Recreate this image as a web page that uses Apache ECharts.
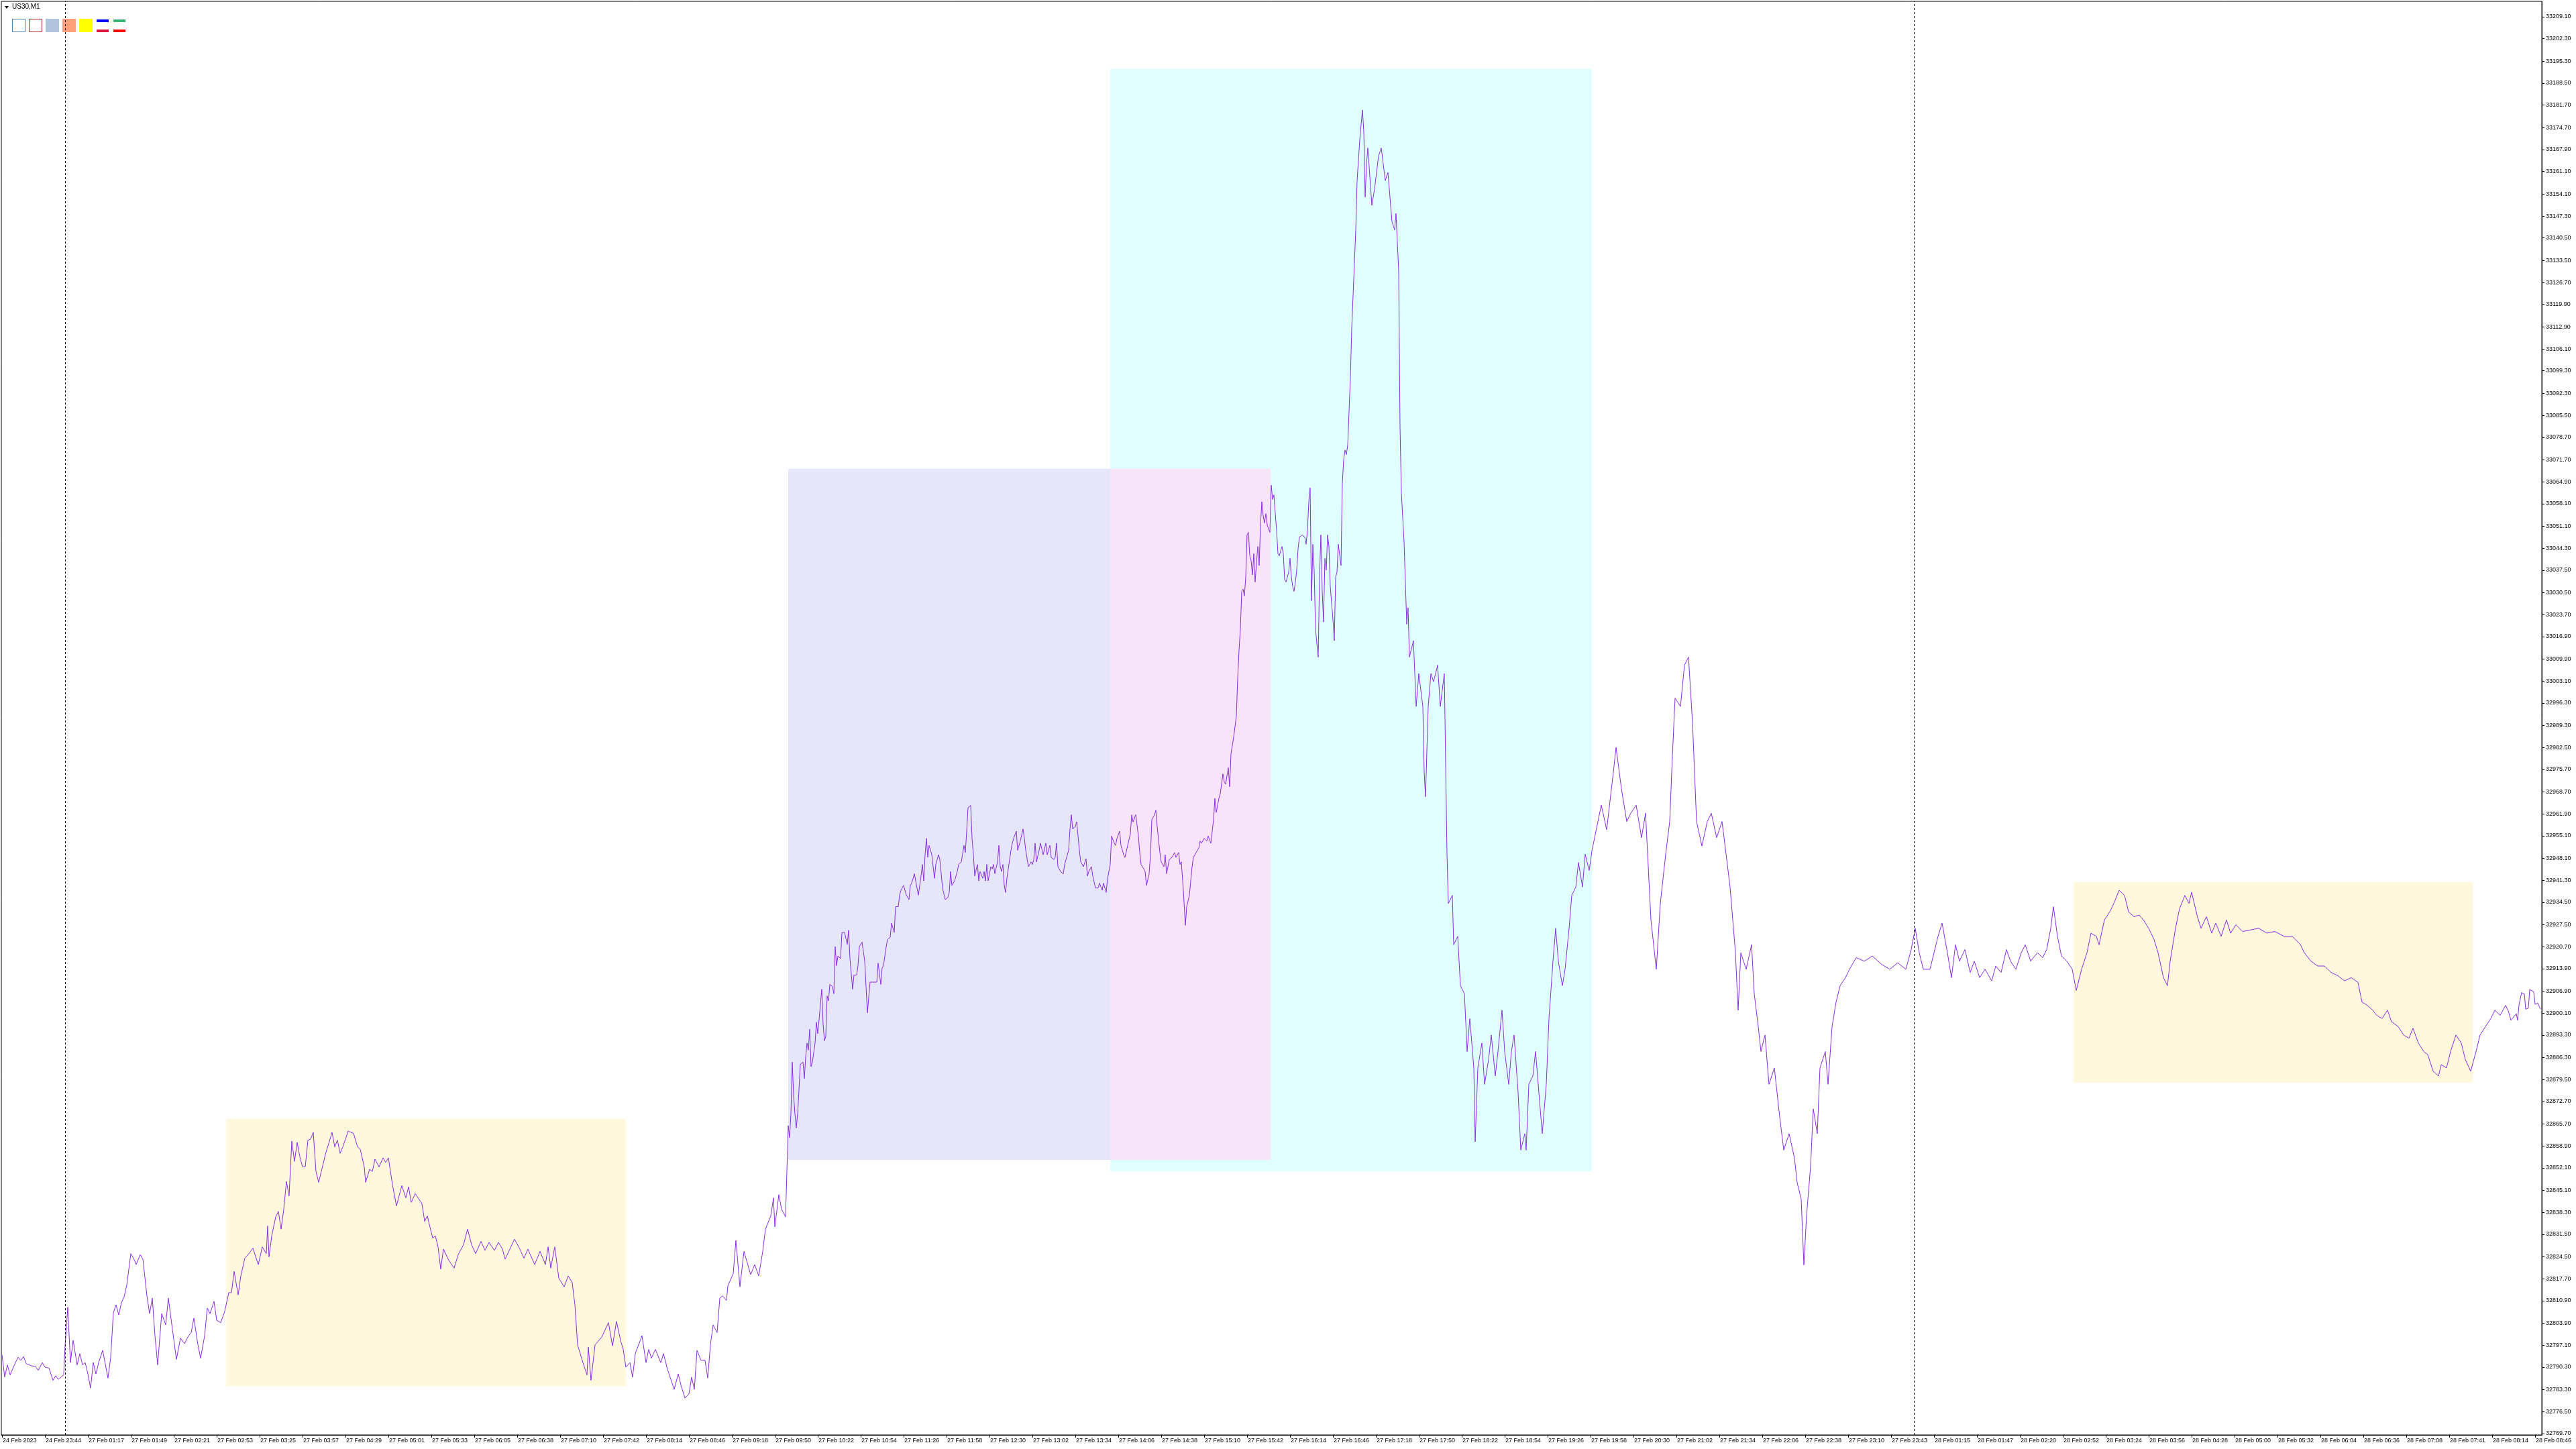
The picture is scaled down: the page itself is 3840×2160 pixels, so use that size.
<!DOCTYPE html>
<html><head><meta charset="utf-8">
<script src="https://cdn.jsdelivr.net/npm/echarts@6/dist/echarts.min.js"></script>
<style>html,body{margin:0;padding:0;background:#fff}#chart{width:3840px;height:2160px}</style>
</head><body><div id="chart"></div>
<script>
const symbolName = 'US30,M1';
const xTickLabels = ['24 Feb 2023','24 Feb 23:44','27 Feb 01:17','27 Feb 01:49','27 Feb 02:21','27 Feb 02:53','27 Feb 03:25','27 Feb 03:57','27 Feb 04:29','27 Feb 05:01','27 Feb 05:33','27 Feb 06:05','27 Feb 06:38','27 Feb 07:10','27 Feb 07:42','27 Feb 08:14','27 Feb 08:46','27 Feb 09:18','27 Feb 09:50','27 Feb 10:22','27 Feb 10:54','27 Feb 11:26','27 Feb 11:58','27 Feb 12:30','27 Feb 13:02','27 Feb 13:34','27 Feb 14:06','27 Feb 14:38','27 Feb 15:10','27 Feb 15:42','27 Feb 16:14','27 Feb 16:46','27 Feb 17:18','27 Feb 17:50','27 Feb 18:22','27 Feb 18:54','27 Feb 19:26','27 Feb 19:58','27 Feb 20:30','27 Feb 21:02','27 Feb 21:34','27 Feb 22:06','27 Feb 22:38','27 Feb 23:10','27 Feb 23:43','28 Feb 01:15','28 Feb 01:47','28 Feb 02:20','28 Feb 02:52','28 Feb 03:24','28 Feb 03:56','28 Feb 04:28','28 Feb 05:00','28 Feb 05:32','28 Feb 06:04','28 Feb 06:36','28 Feb 07:08','28 Feb 07:41','28 Feb 08:14','28 Feb 08:46'];
const barsPerTimeLabel = 32;
const yTickLabels = ['33209.10','33202.30','33195.30','33188.50','33181.70','33174.70','33167.90','33161.10','33154.10','33147.30','33140.50','33133.50','33126.70','33119.90','33112.90','33106.10','33099.30','33092.30','33085.50','33078.70','33071.70','33064.90','33058.10','33051.10','33044.30','33037.50','33030.50','33023.70','33016.90','33009.90','33003.10','32996.30','32989.30','32982.50','32975.70','32968.70','32961.90','32955.10','32948.10','32941.30','32934.50','32927.50','32920.70','32913.90','32906.90','32900.10','32893.30','32886.30','32879.50','32872.70','32865.70','32858.90','32852.10','32845.10','32838.30','32831.50','32824.50','32817.70','32810.90','32803.90','32797.10','32790.30','32783.30','32776.50','32769.70'];
const visibleRange = {firstBar: -0.5, lastBar: 1893, lowPrice: 32769.28, highPrice: 33213.88};
const daySeparatorBars = [47, 1425];
// rectangles: [barStart, priceLow, barEnd, priceHigh]
const rangeBoxes = [[167, 32784.4, 465, 32867.3], [586, 32854.6, 945.5, 33068.9], [826, 32851.1, 1185, 33192.9], [1544, 32878.5, 1841.5, 32940.7]];
// price path: [bar index, price]
const pricePath = [[0,32794.1],[2,32787.2],[4,32791.0],[6,32787.9],[10,32791.7],[12,32793.4],[14,32792.4],[16,32793.6],[18,32791.4],[22,32790.7],[25,32790.5],[27,32789.3],[30,32791.7],[32,32790.3],[35,32790.0],[38,32786.2],[40,32787.6],[42,32786.5],[46,32787.9],[47,32796.9],[49,32808.9],[51,32791.7],[53,32798.6],[56,32791.0],[58,32794.5],[60,32791.0],[62,32791.7],[64,32788.2],[66,32783.8],[68,32791.7],[70,32788.2],[72,32791.7],[75,32795.5],[79,32786.9],[81,32793.4],[83,32807.2],[85,32809.6],[87,32806.5],[89,32810.3],[91,32812.1],[93,32815.8],[96,32825.5],[98,32824.1],[100,32822.1],[103,32825.2],[105,32823.8],[108,32812.4],[110,32806.9],[112,32811.7],[114,32800.0],[116,32791.0],[119,32806.9],[122,32803.4],[124,32811.7],[127,32802.0],[130,32792.7],[133,32799.3],[136,32797.6],[139,32800.0],[141,32801.0],[143,32805.5],[146,32797.2],[148,32793.1],[151,32800.0],[153,32808.6],[155,32806.9],[158,32810.7],[160,32804.8],[163,32804.1],[166,32807.6],[169,32813.4],[171,32813.4],[173,32820.0],[176,32812.7],[178,32818.6],[181,32824.1],[184,32825.5],[187,32827.2],[191,32822.1],[194,32827.6],[197,32825.5],[198,32834.1],[199,32824.5],[201,32831.0],[204,32836.9],[206,32838.6],[208,32833.1],[210,32839.3],[212,32847.9],[214,32843.4],[215,32852.4],[216,32860.4],[218,32854.1],[220,32860.0],[222,32855.5],[224,32852.4],[226,32852.4],[228,32860.7],[230,32861.0],[232,32863.1],[234,32851.0],[236,32847.6],[238,32851.0],[241,32856.2],[246,32863.1],[248,32858.6],[250,32860.7],[252,32856.6],[254,32858.6],[258,32863.5],[262,32862.8],[265,32858.6],[267,32857.9],[270,32852.4],[271,32847.6],[274,32851.7],[276,32851.0],[278,32854.8],[281,32852.4],[284,32855.2],[286,32853.8],[288,32855.2],[291,32846.9],[294,32840.3],[298,32846.6],[301,32842.8],[303,32846.2],[305,32841.4],[308,32844.1],[313,32841.0],[315,32835.5],[317,32837.2],[321,32830.3],[323,32831.0],[325,32827.6],[327,32820.7],[329,32826.9],[333,32823.4],[337,32821.0],[340,32825.2],[341,32824.8],[344,32828.3],[347,32833.1],[350,32828.3],[353,32825.5],[357,32829.3],[360,32826.5],[363,32829.0],[367,32826.5],[370,32829.0],[373,32826.9],[375,32823.8],[382,32830.0],[386,32826.9],[389,32824.1],[392,32826.9],[397,32822.1],[401,32826.2],[405,32822.1],[407,32827.6],[409,32821.0],[412,32827.6],[415,32817.9],[419,32815.2],[422,32818.6],[425,32816.5],[427,32809.6],[429,32797.2],[433,32791.7],[436,32787.9],[437,32796.5],[439,32786.2],[442,32797.2],[447,32799.6],[452,32804.1],[455,32796.9],[458,32804.5],[461,32798.6],[463,32795.8],[465,32790.3],[468,32791.7],[470,32787.2],[472,32794.5],[477,32800.0],[480,32791.7],[482,32795.8],[484,32793.1],[487,32795.8],[491,32791.7],[493,32794.5],[496,32789.6],[501,32783.4],[504,32788.2],[506,32784.8],[509,32780.7],[512,32782.0],[514,32787.2],[516,32783.4],[518,32795.5],[521,32792.4],[524,32792.4],[526,32786.9],[528,32797.2],[530,32803.4],[533,32801.0],[535,32811.7],[537,32812.4],[540,32811.0],[541,32815.5],[545,32819.3],[547,32829.6],[550,32815.2],[553,32826.2],[558,32819.0],[561,32822.1],[564,32818.6],[567,32826.2],[569,32833.1],[573,32837.2],[575,32842.8],[576,32833.8],[579,32843.8],[581,32839.3],[584,32836.9],
[586,32865.2],[587,32861.5],[588,32868.8],[589,32884.9],[590,32874.7],[591,32868.8],[592,32864.5],[593,32868.8],[594,32876.2],[595,32884.2],[597,32884.9],[598,32879.8],[599,32886.4],[600,32890.8],[601,32888.6],[602,32895.1],[603,32883.5],[604,32884.9],[606,32890.8],[607,32897.3],[608,32893.7],[609,32898.1],[611,32907.5],[612,32896.6],[613,32891.5],[614,32892.9],[615,32905.4],[616,32903.9],[617,32909.0],[619,32908.3],[620,32906.1],[621,32920.7],[622,32914.8],[623,32917.8],[625,32917.0],[626,32925.1],[628,32925.1],[630,32921.4],[631,32925.8],[632,32917.0],[634,32907.5],[635,32911.9],[637,32911.9],[638,32914.8],[639,32920.7],[641,32922.1],[642,32919.2],[643,32916.3],[644,32908.3],[645,32900.2],[647,32909.7],[652,32909.7],[653,32915.6],[655,32909.0],[656,32914.1],[657,32914.8],[659,32920.7],[660,32922.9],[662,32923.6],[663,32928.0],[665,32925.1],[666,32933.1],[668,32933.1],[669,32936.7],[670,32938.2],[672,32939.7],[674,32936.7],[676,32935.3],[677,32939.7],[678,32940.4],[680,32943.3],[681,32941.1],[683,32936.7],[684,32939.7],[685,32942.6],[686,32946.2],[687,32941.1],[688,32949.2],[689,32954.3],[690,32948.4],[691,32952.1],[693,32949.2],[694,32945.5],[695,32941.9],[696,32946.2],[698,32949.2],[699,32947.7],[700,32943.3],[701,32938.9],[703,32935.3],[705,32936.0],[706,32937.5],[707,32944.0],[708,32939.7],[710,32941.1],[712,32944.0],[713,32946.2],[715,32947.0],[717,32952.1],[718,32949.9],[719,32956.5],[720,32963.8],[722,32964.5],[723,32954.3],[724,32949.2],[725,32942.6],[727,32946.2],[728,32941.1],[729,32944.0],[731,32941.9],[732,32944.0],[733,32941.1],[734,32946.2],[735,32941.1],[737,32945.5],[738,32944.8],[739,32946.2],[740,32943.3],[742,32947.0],[743,32952.1],[744,32945.5],[745,32944.0],[746,32946.2],[747,32939.7],[748,32937.5],[749,32941.9],[750,32944.8],[752,32950.6],[753,32952.8],[754,32954.3],[756,32956.5],[757,32950.6],[759,32953.5],[761,32957.2],[762,32954.3],[763,32950.6],[765,32945.5],[767,32947.0],[768,32946.2],[769,32947.7],[770,32952.8],[771,32947.0],[773,32950.6],[774,32952.8],[776,32949.2],[778,32952.8],[779,32949.2],[781,32952.1],[782,32948.4],[784,32947.7],[785,32948.4],[786,32952.8],[787,32945.5],[789,32944.0],[791,32943.3],[792,32946.2],[795,32950.6],[796,32957.2],[797,32961.6],[798,32957.2],[800,32957.9],[801,32959.4],[802,32959.4],[803,32950.6],[804,32947.0],[806,32945.5],[808,32948.0],[809,32942.6],[810,32944.0],[812,32945.5],[813,32942.6],[815,32938.9],[817,32938.9],[818,32940.4],[820,32938.2],[821,32940.4],[823,32937.5],[824,32941.9],[826,32946.2],[827,32955.0],[829,32952.8],[830,32952.1],[831,32954.3],[833,32956.5],[834,32952.1],[836,32949.2],[837,32948.4],[839,32952.1],[841,32955.7],[842,32961.6],[843,32959.4],[845,32961.6],[847,32955.0],[848,32949.9],[849,32946.2],[851,32944.8],[852,32944.0],[853,32939.7],[855,32943.3],[856,32949.2],[857,32960.1],[859,32961.6],[860,32963.0],[861,32957.9],[863,32949.9],[864,32947.0],[866,32945.5],[867,32949.2],[868,32943.3],[870,32947.7],[872,32948.4],[874,32949.9],[875,32948.4],[877,32949.9],[878,32946.2],[879,32947.0],[880,32941.1],[881,32934.6],[882,32927.3],[883,32933.1],[885,32936.7],[886,32941.1],[887,32945.5],[888,32948.4],[890,32949.9],[892,32951.3],[893,32953.5],[894,32952.8],[896,32954.3],[898,32953.5],[899,32955.0],[901,32952.8],[902,32956.5],[903,32960.1],[904,32966.7],[905,32962.3],[907,32966.7],[908,32968.1],[910,32974.3],[911,32971.8],[912,32971.1],[914,32976.2],[915,32970.3],[916,32980.5],[918,32985.7],[920,32992.2],[921,33003.9],[922,33012.7],[923,33019.2],[924,33030.9],[925,33031.6],[926,33029.5],[927,33035.3],[928,33048.4],[929,33049.2],[930,33041.9],[931,33040.4],[932,33036.0],[933,33042.6],[934,33033.8],[935,33039.7],[936,33044.8],[937,33038.9],[938,33051.4],[939,33058.7],[940,33054.3],[941,33052.1],[942,33055.0],[943,33051.4],[945,33049.2],[946,33063.8],[947,33059.4],[948,33060.8],[949,33055.0],[950,33049.9],[951,33042.6],[952,33041.9],[954,33044.8],[955,33042.6],[956,33034.6],[957,33033.8],[959,33036.8],[960,33041.1],[961,33035.3],[962,33032.4],[963,33030.9],[964,33033.8],[965,33037.5],[966,33044.1],[967,33047.7],[969,33048.4],[971,33047.7],[972,33045.5],[973,33049.9],[974,33058.7],[975,33063.0],[976,33028.0],[977,33045.5],[978,33037.5],[979,33019.2],[981,33010.5],[982,33035.3],[983,33048.4],[984,33030.9],[985,33021.4],[986,33041.1],[987,33037.5],[988,33048.4],[989,33044.8],[990,33032.4],[992,33022.2],[993,33015.6],[994,33035.3],[995,33036.8],[996,33045.5],[998,33038.9],[999,33064.5],[1000,33071.8],[1001,33074.7],[1002,33073.3],[1003,33076.2],
[1005,33097.1],[1006,33112.4],[1009,33143.0],[1010,33158.3],[1012,33171.0],[1014,33180.2],[1015,33173.5],[1016,33153.2],[1017,33163.3],[1018,33168.4],[1021,33150.6],[1023,33155.7],[1026,33165.9],[1028,33168.4],[1031,33158.3],[1033,33160.8],[1036,33145.5],[1038,33143.0],[1039,33148.1],[1041,33130.2],[1042,33081.8],[1043,33061.4],[1045,33046.2],[1047,33020.7],[1048,33025.8],[1049,33010.5],[1052,33015.6],[1054,32995.2],[1056,33005.4],[1059,32995.2],[1060,32974.8],[1061,32967.2],[1063,32995.2],[1065,33005.4],[1067,33002.9],[1070,33008.0],[1072,32995.2],[1075,33005.4],[1077,32949.4],[1078,32934.1],[1081,32936.6],[1082,32921.3],[1085,32923.9],[1087,32908.6],[1090,32906.1],[1092,32888.2],[1094,32898.4],[1097,32883.1],[1098,32860.2],[1100,32883.1],[1103,32890.8],[1105,32878.0],[1108,32885.7],[1110,32893.3],[1113,32880.6],[1115,32888.2],[1118,32901.0],[1120,32888.2],[1123,32878.0],[1125,32888.2],[1127,32893.3],[1130,32875.5],[1132,32857.6],[1135,32862.7],[1136,32857.6],[1138,32878.0],[1141,32880.6],[1143,32888.2],[1146,32872.9],[1148,32862.7],[1151,32878.0],[1153,32898.4],[1156,32916.2],[1158,32926.4],[1160,32916.2],[1163,32908.6],[1165,32913.7],[1168,32926.4],[1170,32936.6],[1173,32939.2],[1175,32946.8],[1178,32939.2],[1180,32949.4],[1183,32944.3],[1185,32950.4],
[1192,32964.6],[1196,32957.0],[1201,32974.8],[1203,32982.5],[1207,32969.7],[1211,32959.5],[1214,32962.1],[1218,32964.6],[1222,32954.5],[1225,32962.1],[1229,32929.0],[1233,32913.7],[1236,32934.1],[1240,32949.4],[1243,32959.5],[1245,32979.9],[1247,32997.8],[1251,32995.2],[1254,33008.0],[1257,33010.5],[1260,32990.1],[1263,32959.5],[1267,32951.9],[1271,32959.5],[1274,32962.1],[1278,32954.5],[1282,32959.5],[1285,32949.4],[1288,32939.2],[1292,32918.8],[1294,32901.0],[1296,32918.8],[1300,32913.7],[1304,32921.3],[1306,32906.1],[1309,32895.9],[1311,32888.2],[1314,32893.3],[1317,32878.0],[1321,32883.1],[1325,32867.8],[1328,32857.6],[1332,32862.7],[1336,32855.1],[1338,32847.5],[1341,32842.4],[1343,32822.0],[1345,32837.3],[1348,32852.6],[1350,32870.4],[1353,32862.7],[1355,32883.1],[1359,32888.2],[1361,32878.0],[1364,32895.9],[1367,32903.5],[1370,32908.6],[1374,32911.1],[1377,32913.7],[1382,32917.3],[1388,32916.2],[1394,32917.8],[1401,32915.2],[1407,32913.7],[1413,32915.7],[1419,32913.7],[1423,32919.8],[1426,32926.4],[1429,32918.8],[1432,32913.7],[1437,32913.7],[1443,32923.9],[1446,32928.0],[1450,32918.8],[1453,32911.1],[1456,32921.3],[1459,32916.2],[1463,32919.8],[1467,32912.7],[1470,32916.2],[1474,32911.1],[1478,32913.7],[1483,32910.1],[1486,32914.7],[1490,32912.7],[1494,32919.8],[1497,32916.2],[1501,32913.7],[1505,32918.8],[1508,32921.3],[1512,32916.2],[1517,32918.8],[1521,32917.3],[1524,32919.8],[1527,32926.4],[1529,32933.1],[1532,32923.9],[1535,32917.8],[1539,32916.2],[1543,32913.7],[1546,32907.1],[1550,32913.7],[1554,32918.8],[1557,32924.9],[1561,32923.9],[1563,32921.3],[1567,32929.0],[1571,32931.5],[1574,32934.1],[1578,32938.2],[1582,32936.6],[1585,32931.5],[1589,32930.0],[1593,32930.5],[1596,32929.0],[1600,32926.4],[1604,32922.9],[1607,32918.8],[1611,32911.1],[1614,32908.6],[1616,32916.2],[1620,32926.4],[1623,32932.5],[1627,32936.6],[1630,32934.1],[1632,32937.6],[1636,32930.5],[1639,32926.4],[1643,32930.0],[1647,32924.9],[1650,32928.0],[1654,32923.9],[1658,32929.0],[1661,32924.9],[1665,32927.5],[1670,32925.4],[1676,32925.9],[1682,32926.4],[1688,32924.9],[1694,32925.4],[1701,32923.9],[1707,32923.9],[1713,32921.4],[1716,32918.8],[1721,32916.2],[1726,32914.7],[1731,32914.7],[1736,32912.7],[1741,32911.7],[1746,32910.1],[1751,32911.1],[1756,32909.6],[1759,32903.5],[1763,32902.5],[1767,32901.0],[1770,32899.4],[1774,32898.4],[1778,32901.0],[1781,32897.4],[1786,32895.9],[1790,32893.3],[1794,32892.3],[1797,32895.4],[1801,32890.8],[1805,32888.2],[1808,32887.2],[1812,32882.1],[1816,32880.6],[1818,32884.1],[1822,32883.1],[1825,32888.2],[1829,32893.3],[1833,32890.8],[1836,32885.7],[1840,32882.1],[1844,32888.2],[1847,32893.3],[1851,32895.9],[1855,32898.4],[1858,32901.0],[1862,32899.4],[1866,32902.5],[1868,32900.8],[1870,32897.9],[1874,32899.9],[1875,32897.9],[1876,32902.6],[1878,32906.5],[1880,32906.0],[1881,32901.3],[1883,32901.7],[1884,32907.4],[1887,32906.7],[1888,32902.8],[1890,32903.2],[1892,32901.3]];

// ---- styles ----
const boxColors = ['#FFF8DC', '#E6E6FA', '#E0FFFF', '#FFF8DC'];
const overlapColor = '#F8E4F8';
const lineColor = '#8A2BE2';
const axisFont = {fontFamily: 'Liberation Sans', fontSize: 9, color: '#000'};

function boxItem(b, color) {
  return [{coord: [b[0], b[1]], itemStyle: {color: color, opacity: 1}}, {coord: [b[2], b[3]]}];
}
const areaData = [];
areaData.push(boxItem(rangeBoxes[2], boxColors[2]));
[0, 1, 3].forEach(i => areaData.push(boxItem(rangeBoxes[i], boxColors[i])));
(function () {
  const a = rangeBoxes[1], c = rangeBoxes[2];
  const ov = [Math.max(a[0], c[0]), Math.max(a[1], c[1]), Math.min(a[2], c[2]), Math.min(a[3], c[3])];
  if (ov[0] < ov[2] && ov[1] < ov[3]) areaData.push(boxItem(ov, overlapColor));
})();

const xTickValues = xTickLabels.map((_, k) => k * barsPerTimeLabel);
const yTickValues = yTickLabels.map(Number);

const chart = echarts.init(document.getElementById('chart'), null, {renderer: 'canvas'});
chart.setOption({
  animation: false,
  backgroundColor: '#fff',
  grid: {left: 2, top: 2, right: 51, bottom: 21, show: true, borderColor: '#000', borderWidth: 1, backgroundColor: 'transparent', containLabel: false, outerBoundsMode: 'none'},
  xAxis: {
    type: 'value', min: visibleRange.firstBar, max: visibleRange.lastBar, position: 'bottom',
    splitLine: {show: false},
    axisLine: {show: true, onZero: false, lineStyle: {color: '#000', width: 1}},
    axisTick: {show: true, inside: false, length: 4, lineStyle: {color: '#000'}, customValues: xTickValues},
    axisLabel: Object.assign({show: true, margin: 4, align: 'left', padding: [0, 0, 0, 1], showMinLabel: true, showMaxLabel: true,
      customValues: xTickValues,
      formatter: v => xTickLabels[Math.round(v / barsPerTimeLabel)]}, axisFont)
  },
  yAxis: {
    type: 'value', position: 'right', min: visibleRange.lowPrice, max: visibleRange.highPrice, scale: true,
    splitLine: {show: false},
    axisLine: {show: true, onZero: false, lineStyle: {color: '#000', width: 1}},
    axisTick: {show: true, inside: false, length: 4, lineStyle: {color: '#000'}, customValues: yTickValues},
    axisLabel: Object.assign({show: true, margin: 6, showMinLabel: true, showMaxLabel: true,
      customValues: yTickValues,
      formatter: v => v.toFixed(2)}, axisFont)
  },
  series: [
    {
      type: 'line', data: [], z: 1, silent: true,
      markArea: {silent: true, data: areaData, label: {show: false}},
      markLine: {silent: true, symbol: ['none', 'none'], label: {show: false},
        lineStyle: {color: '#000', width: 1, type: [3, 3]},
        data: daySeparatorBars.map(b => ({xAxis: b}))}
    },
    {
      type: 'line', data: pricePath, z: 3, showSymbol: false, symbol: 'none', sampling: null,
      lineStyle: {color: lineColor, width: 1}, itemStyle: {color: lineColor}, silent: true
    }
  ],
  graphic: [
    {type: 'polygon', shape: {points: [[7, 9], [13, 9], [10, 13]]}, style: {fill: '#000'}},
    {type: 'text', left: 18, top: 5, style: {text: symbolName, font: '10px "Liberation Sans"', fill: '#000'}},
    {type: 'rect', shape: {x: 18.5, y: 28.5, width: 19, height: 19}, style: {fill: '#fff', stroke: '#4682B4', lineWidth: 1}},
    {type: 'rect', shape: {x: 43.5, y: 28.5, width: 19, height: 19}, style: {fill: '#fff', stroke: '#B22222', lineWidth: 1}},
    {type: 'rect', shape: {x: 68, y: 28, width: 20, height: 20}, style: {fill: '#B0C4DE'}},
    {type: 'rect', shape: {x: 93, y: 28, width: 20, height: 20}, style: {fill: '#FFA07A'}},
    {type: 'rect', shape: {x: 118, y: 28, width: 20, height: 20}, style: {fill: '#FFFF00'}},
    {type: 'rect', shape: {x: 144, y: 29, width: 18, height: 4}, style: {fill: '#0000FF'}},
    {type: 'rect', shape: {x: 144, y: 44, width: 18, height: 4}, style: {fill: '#DC143C'}},
    {type: 'rect', shape: {x: 169, y: 29, width: 18, height: 4}, style: {fill: '#3CB371'}},
    {type: 'rect', shape: {x: 169, y: 44, width: 18, height: 4}, style: {fill: '#FF0000'}}
  ]
});
</script>
</body></html>
